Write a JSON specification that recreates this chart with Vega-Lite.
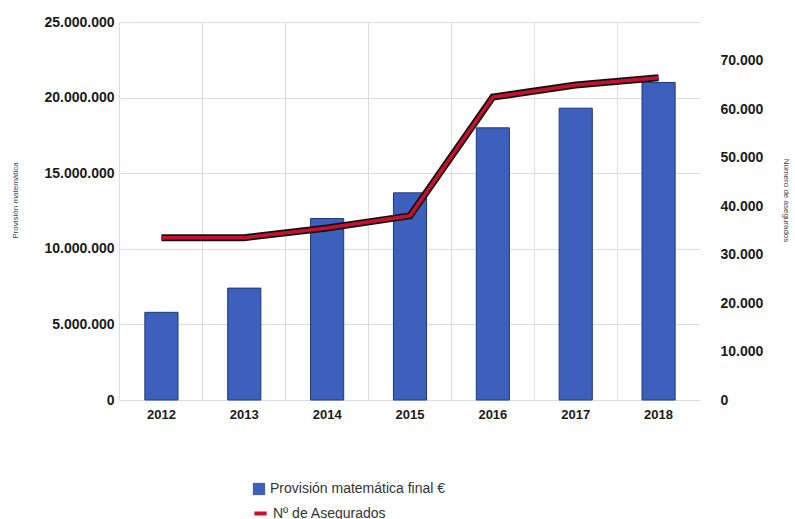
{
  "$schema": "https://vega.github.io/schema/vega-lite/v6.json",
  "autosize": {"type": "none"},
  "width": 580,
  "height": 378,
  "padding": {"left": 120, "top": 22, "right": 95, "bottom": 119},
  "background": "white",
  "config": {
    "locale": {"number": {"decimal": ",", "thousands": ".", "grouping": [3], "currency": ["", " €"]}},
    "font": "Liberation Sans",
    "view": {"stroke": null},
    "axis": {"labelFont": "Liberation Sans", "labelFontSize": 14, "labelFontWeight": "bold", "labelColor": "#1a1a1a", "titleFont": "Liberation Sans", "titleFontSize": 8, "titleFontWeight": "normal", "titleColor": "#444", "domain": false, "ticks": false, "gridColor": "#dcdcdc"},
    "legend": {"labelFont": "Liberation Sans", "labelFontSize": 14, "labelColor": "#333", "labelLimit": 0, "title": null}
  },
  "data": {
    "values": [
      {"year": "2012", "provision": 5800000, "asegurados": 33500},
      {"year": "2013", "provision": 7400000, "asegurados": 33500},
      {"year": "2014", "provision": 12000000, "asegurados": 35500},
      {"year": "2015", "provision": 13700000, "asegurados": 38000},
      {"year": "2016", "provision": 18000000, "asegurados": 62500},
      {"year": "2017", "provision": 19300000, "asegurados": 65000},
      {"year": "2018", "provision": 21000000, "asegurados": 66500}
    ]
  },
  "encoding": {
    "x": {"field": "year", "type": "nominal", "scale": {"paddingInner": 0.6, "paddingOuter": 0.3},
      "axis": {"title": null, "labelAngle": 0, "labelPadding": 8, "labelFontSize": 13, "grid": true, "bandPosition": -0.75}}
  },
  "layer": [
    {
      "mark": {"type": "bar", "stroke": "#1f3878", "strokeWidth": 1},
      "encoding": {
        "y": {"field": "provision", "type": "quantitative", "scale": {"domain": [0, 25000000], "nice": false},
          "axis": {"title": "Provisión matemática", "values": [0, 5000000, 10000000, 15000000, 20000000, 25000000], "format": ",d", "labelPadding": 6, "grid": true, "titleX": -105, "titleY": 178, "titleAngle": -90, "titleAlign": "center", "titleBaseline": "middle"}},
        "color": {"datum": "Provisión matemática final €", "scale": {"range": ["#3e60bd"]},
          "legend": {"orient": "none", "legendX": 132, "legendY": 460, "symbolType": "square", "symbolSize": 150, "symbolStrokeWidth": 0}}
      }
    },
    {
      "encoding": {
        "y": {"field": "asegurados", "type": "quantitative", "scale": {"domain": [0, 78000], "nice": false},
          "axis": {"orient": "right", "title": "Número de asegurados", "values": [0, 10000, 20000, 30000, 40000, 50000, 60000, 70000], "format": ",d", "labelPadding": 20, "grid": false, "titleX": 85, "titleY": 178, "titleAngle": 90, "titleAlign": "center", "titleBaseline": "middle"}}
      },
      "layer": [
        {"mark": {"type": "line", "color": "#111111", "strokeWidth": 7, "strokeJoin": "miter"}, "encoding": {}},
        {
          "mark": {"type": "line", "strokeWidth": 3.5, "strokeJoin": "miter"},
          "encoding": {
            "stroke": {"datum": "Nº de Asegurados", "scale": {"range": ["#c8102e"]},
              "legend": {"orient": "none", "legendX": 132, "legendY": 483, "symbolType": "stroke", "symbolSize": 150, "symbolStrokeWidth": 4}}
          }
        }
      ]
    }
  ],
  "resolve": {"scale": {"y": "independent"}}
}
